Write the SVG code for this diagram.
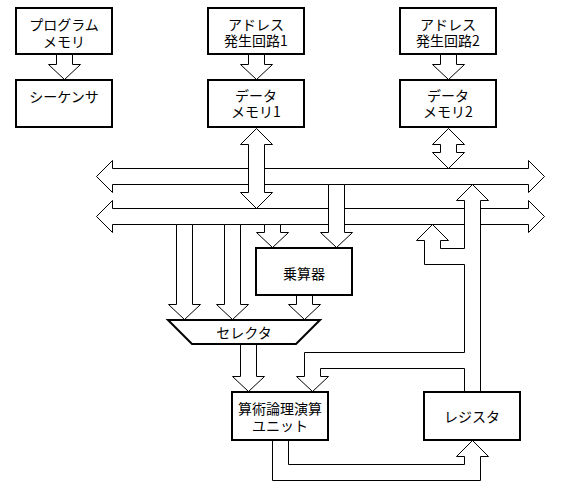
<svg xmlns="http://www.w3.org/2000/svg" width="561" height="497" viewBox="0 0 561 497">
<style>
.box{fill:#fff;stroke:#000;stroke-width:2}
.arr{fill:#fff;stroke:#000;stroke-width:1;stroke-linejoin:miter}
.ln{fill:none;stroke:#000;stroke-width:1}
.t{font-family:"Noto Sans CJK JP","Noto Sans",sans-serif;font-size:14px;text-anchor:middle;fill:#000}
</style>
<rect width="561" height="497" fill="#fff"/>
<g id="connectors" transform="translate(0.5,0.5)">
  <polygon class="arr" points="56,54 56,64 48,64 64,79 80,64 72,64 72,54"/>
  <polygon class="arr" points="248,54 248,64 240,64 256,79 272,64 264,64 264,54"/>
  <polygon class="arr" points="440,54 440,64 432,64 448,79 464,64 456,64 456,54"/>
  <polygon class="arr" points="96,176 112,160 112,168 528,168 528,160 544,176 528,192 528,184 112,184 112,192"/>
  <polygon class="arr" points="96,216 112,200 112,208 528,208 528,200 544,216 528,232 528,224 112,224 112,232"/>
  <polygon class="arr" points="256,128 272,144 264,144 264,192 272,192 256,208 240,192 248,192 248,144 240,144"/>
  <polygon class="arr" points="448,128 464,144 456,144 456,152 464,152 448,168 432,152 440,152 440,144 432,144"/>
  <polygon class="arr" points="328,184 328,232 320,232 336,247 352,232 344,232 344,184"/>
  <polygon class="arr" points="264,224 264,232 256,232 272,247 288,232 280,232 280,224"/>
  <polygon class="arr" points="176,224 176,304 168,304 184,319 200,304 192,304 192,224"/>
  <polygon class="arr" points="224,224 224,304 216,304 232,319 248,304 240,304 240,224"/>
  <polygon class="arr" points="296,294 296,304 288,304 304,319 320,304 312,304 312,294"/>
  <polygon class="arr" points="240,344 240,376 232,376 248,391 264,376 256,376 256,344"/>
  <polygon class="arr" points="480,391 480,200 488,200 472,184 456,200 464,200 464,248 440,248 440,240 448,240 432,224 416,240 424,240 424,264 464,264 464,352 304,352 304,376 296,376 312,391 328,376 320,376 320,368 464,368 464,391"/>
  <polyline class="ln" points="272,440 272,480 480,480 480,456 488,456 472,440 456,456 464,456 464,464 288,464 288,440"/>
</g>
<g id="prog-mem">
  <rect class="box" x="16" y="8" width="96" height="46"/>
  <text class="t"><tspan x="64" y="30">プログラム</tspan><tspan x="64" y="47">メモリ</tspan></text>
</g>
<g id="sequencer">
  <rect class="box" x="16" y="80" width="96" height="47"/>
  <text class="t" x="64" y="102">シーケンサ</text>
</g>
<g id="addr-gen1">
  <rect class="box" x="208" y="8" width="96" height="46"/>
  <text class="t"><tspan x="256" y="30">アドレス</tspan><tspan x="256" y="46">発生回路1</tspan></text>
</g>
<g id="data-mem1">
  <rect class="box" x="208" y="80" width="96" height="47"/>
  <text class="t"><tspan x="256" y="101">データ</tspan><tspan x="256" y="117">メモリ1</tspan></text>
</g>
<g id="addr-gen2">
  <rect class="box" x="400" y="8" width="96" height="46"/>
  <text class="t"><tspan x="448" y="30">アドレス</tspan><tspan x="448" y="46">発生回路2</tspan></text>
</g>
<g id="data-mem2">
  <rect class="box" x="400" y="80" width="96" height="47"/>
  <text class="t"><tspan x="448" y="101">データ</tspan><tspan x="448" y="117">メモリ2</tspan></text>
</g>
<g id="multiplier">
  <rect class="box" x="256" y="248" width="96" height="47"/>
  <text class="t" x="304" y="279">乗算器</text>
</g>
<g id="selector">
  <polygon class="box" points="168,320 320,320 296,344 192,344"/>
  <text class="t" x="244" y="338">セレクタ</text>
</g>
<g id="alu">
  <rect class="box" x="232" y="392" width="96" height="48"/>
  <text class="t"><tspan x="280" y="414">算術論理演算</tspan><tspan x="280" y="431">ユニット</tspan></text>
</g>
<g id="register">
  <rect class="box" x="424" y="392" width="96" height="48"/>
  <text class="t" x="472" y="422">レジスタ</text>
</g>
</svg>
